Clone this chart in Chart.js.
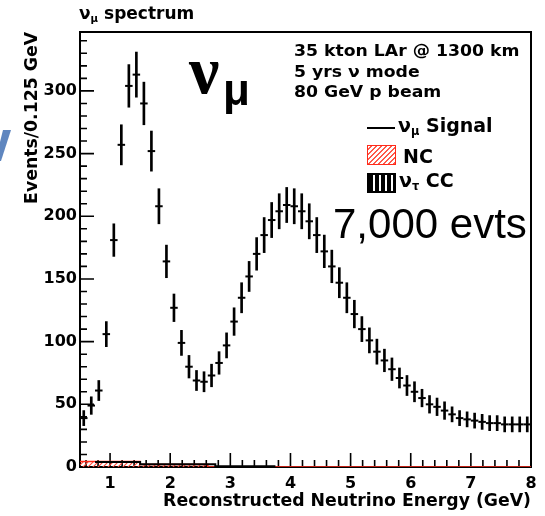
<!DOCTYPE html>
<html>
<head>
<meta charset="utf-8">
<script src="https://cdn.jsdelivr.net/npm/chart.js@4"></script>
<style>
  body { margin: 0; background: #fff; }
  #marco { position: relative; width: 545px; height: 516px; overflow: hidden; }
  #grafico { position: absolute; left: 0; top: 0; }
  .t { position: absolute; white-space: nowrap; color: #000; font-family: "DejaVu Sans"; font-weight: bold; line-height: normal; }
  .t sub { font-size: 60%; vertical-align: -0.25em; line-height: 0; }
  .caja { position: absolute; width: 29px; height: 20px; box-sizing: border-box; }
</style>
</head>
<body>
<div id="marco">
  <canvas id="grafico" width="545" height="516"></canvas>

  <div class="t" style="left:79px; top:3px; font-size:17px;">&nu;<sub>&mu;</sub> spectrum</div>

  <div class="t" style="left:294px; top:42px; font-size:15px; transform:scaleX(1.15); transform-origin:left;">35 kton LAr @ 1300 km</div>
  <div class="t" style="left:294px; top:63px; font-size:15px; transform:scaleX(1.15); transform-origin:left;">5 yrs &nu; mode</div>
  <div class="t" style="left:294px; top:83px; font-size:15px; transform:scaleX(1.15); transform-origin:left;">80 GeV p beam</div>

  <div style="position:absolute; left:367px; top:127px; width:28px; height:2px; background:#000;"></div>
  <div class="t" style="left:398px; top:114px; font-size:19px;">&nu;<sub>&mu;</sub> Signal</div>

  <div class="caja" style="left:367px; top:145px; border:1.5px solid #ff2a1a; background:repeating-linear-gradient(135deg, #fff 0 2px, #ff5a4a 2px 3.5px);"></div>
  <div class="t" style="left:403px; top:145px; font-size:19px;">NC</div>

  <div class="caja" style="left:367px; top:173px; border:2px solid #000; background:repeating-linear-gradient(90deg, #000 0 4px, #fff 4px 6px);"></div>
  <div class="t" style="left:399px; top:169px; font-size:19px;">&nu;<sub>&tau;</sub> CC</div>

  <div class="t" style="left:333px; top:200px; font-size:42px; font-family:'Liberation Sans'; font-weight:normal;">7,000 evts</div>

  <div class="t" style="left:189px; top:31px; font-size:68px; font-family:'Liberation Serif';">&nu;</div>
  <div class="t" style="left:223px; top:65px; font-size:44px; font-family:'Liberation Sans';">&mu;</div>

  <svg style="position:absolute; left:0; top:0;" width="20" height="200">
    <polygon points="3,130 11,130 1,161 0,161 0,142" fill="#5f86bf"></polygon>
  </svg>
</div>

<script>
// ============================
// DATOS
// ============================
const centros = [
  0.5625, 0.6875, 0.8125, 0.9375, 1.0625, 1.1875, 1.3125, 1.4375, 1.5625, 1.6875,
  1.8125, 1.9375, 2.0625, 2.1875, 2.3125, 2.4375, 2.5625, 2.6875, 2.8125, 2.9375,
  3.0625, 3.1875, 3.3125, 3.4375, 3.5625, 3.6875, 3.8125, 3.9375, 4.0625, 4.1875,
  4.3125, 4.4375, 4.5625, 4.6875, 4.8125, 4.9375, 5.0625, 5.1875, 5.3125, 5.4375,
  5.5625, 5.6875, 5.8125, 5.9375, 6.0625, 6.1875, 6.3125, 6.4375, 6.5625, 6.6875,
  6.8125, 6.9375, 7.0625, 7.1875, 7.3125, 7.4375, 7.5625, 7.6875, 7.8125, 7.9375
];

const eventos = [
  39, 49, 61, 106, 181, 257, 304, 313, 290, 252,
  208, 164, 127, 99, 80, 69, 68, 73, 83, 97,
  116, 135, 152, 170, 185, 197, 204, 209, 208, 204,
  196, 185, 172, 160, 147, 135, 122, 110, 101, 92,
  85, 78, 71, 65, 60, 55, 50, 48, 45, 42,
  39, 38, 37, 36, 35, 35, 34, 34, 34, 34
];

const errores = [
  6, 7, 8, 10, 13, 16, 17, 18, 17, 16,
  14, 13, 11, 10, 9, 8, 8, 9, 9, 10,
  11, 12, 12, 13, 14, 14, 14, 14, 14, 14,
  14, 14, 13, 13, 12, 12, 11, 10, 10, 10,
  9, 9, 8, 8, 8, 7, 7, 7, 7, 6,
  6, 6, 6, 6, 6, 6, 6, 6, 6, 6
];

// histogramas pequenos del fondo (bordes de escalon y alturas)
const ncBordes = [0.5, 1.5, 2.625, 8];
const ncAlturas = [4.3, 2, 0, 0];
const senalBordes = [0.75, 1.5, 2.75, 3.75];
const senalAlturas = [4, 2.2, 0.5, 0.5];

const xEtiquetas = [1, 2, 3, 4, 5, 6, 7, 8];
const yEtiquetas = [0, 50, 100, 150, 200, 250, 300];

// ============================
// RAYADO ROJO (NC)
// ============================
function crearRayado() {
  const c = document.createElement("canvas");
  c.width = 5; c.height = 5;
  const g = c.getContext("2d");
  g.strokeStyle = "#ff4636";
  g.lineWidth = 1.1;
  g.beginPath();
  g.moveTo(0, 5); g.lineTo(5, 0);
  g.moveTo(-2.5, 2.5); g.lineTo(2.5, -2.5);
  g.moveTo(2.5, 7.5); g.lineTo(7.5, 2.5);
  g.stroke();
  return g.createPattern(c, "repeat");
}

// ============================
// MARCO Y TICKS ESTILO ROOT
// ============================
const marcoRoot = {
  id: "marcoRoot",
  beforeDatasetsDraw(chart) {
    const { ctx, chartArea: a, scales } = chart;
    const x = scales.x, y = scales.y;
    ctx.save();
    ctx.strokeStyle = "#000";
    ctx.lineWidth = 2;
    ctx.strokeRect(a.left, a.top, a.right - a.left, a.bottom - a.top);

    ctx.lineWidth = 1.6;
    ctx.beginPath();
    for (let v = 0.6; v < 8; v += 0.2) {
      const px = x.getPixelForValue(v);
      const mayor = Math.abs(v - Math.round(v)) < 0.01;
      ctx.moveTo(px, a.bottom);
      ctx.lineTo(px, a.bottom - (mayor ? 14 : 7));
    }
    for (let v = 10; v < y.max; v += 10) {
      const py = y.getPixelForValue(v);
      const mayor = v % 50 === 0;
      ctx.moveTo(a.left, py);
      ctx.lineTo(a.left + (mayor ? 14 : 7), py);
    }
    ctx.stroke();
    ctx.restore();
  }
};

// ============================
// GRAFICO
// ============================
const fuenteEje = { family: "DejaVu Sans", weight: "bold", size: 16 };
const fuenteTitulo = { family: "DejaVu Sans", weight: "bold", size: 17.3 };

new Chart(document.getElementById("grafico"), {
  type: "scatter",
  data: {
    datasets: [
      {
        type: "scatter",
        data: centros.map((x, i) => ({ x: x, y: eventos[i] })),
        pointStyle: "line",
        pointRadius: 3.75,
        pointHoverRadius: 3.75,
        pointBorderWidth: 2,
        borderWidth: 2,
        borderColor: "#000",
        backgroundColor: "#000"
      },
      {
        type: "bar",
        data: centros.map((x, i) => ({ x: x, y: [eventos[i] - errores[i], eventos[i] + errores[i]] })),
        backgroundColor: "#000",
        borderWidth: 0,
        barThickness: 2,
        grouped: false
      },
      {
        type: "line",
        data: senalBordes.map((x, i) => ({ x: x, y: senalAlturas[i] })),
        stepped: true,
        borderColor: "#000",
        borderWidth: 2,
        pointRadius: 0,
        fill: false
      },
      {
        type: "line",
        data: ncBordes.map((x, i) => ({ x: x, y: ncAlturas[i] })),
        stepped: true,
        borderColor: "#ff2a1a",
        borderWidth: 1.5,
        pointRadius: 0,
        fill: "origin",
        backgroundColor: crearRayado()
      }
    ]
  },
  options: {
    responsive: false,
    animation: false,
    events: [],
    layout: { padding: { top: 32, right: 14, left: 0, bottom: 0 } },
    plugins: { legend: { display: false }, tooltip: { enabled: false } },
    scales: {
      x: {
        type: "linear",
        min: 0.5,
        max: 8,
        offset: false,
        grid: { display: false, drawTicks: false },
        border: { display: false },
        afterBuildTicks: (s) => { s.ticks = xEtiquetas.map((v) => ({ value: v })); },
        afterFit: (s) => { s.height = 49; },
        ticks: { font: fuenteEje, color: "#000", padding: 7, maxRotation: 0, autoSkip: false },
        title: {
          display: true,
          text: "Reconstructed Neutrino Energy (GeV)",
          align: "end",
          color: "#000",
          font: fuenteTitulo,
          padding: { top: 0, bottom: 4 }
        }
      },
      y: {
        min: 0,
        max: 347,
        grid: { display: false, drawTicks: false },
        border: { display: false },
        afterBuildTicks: (s) => { s.ticks = yEtiquetas.map((v) => ({ value: v })); },
        afterFit: (s) => { s.width = 80; },
        ticks: { font: fuenteEje, color: "#000", padding: 3, autoSkip: false },
        title: {
          display: true,
          text: "Events/0.125 GeV",
          align: "end",
          color: "#000",
          font: fuenteTitulo,
          padding: { top: 22, bottom: 0 }
        }
      }
    }
  },
  plugins: [marcoRoot]
});
</script>
</body>
</html>
